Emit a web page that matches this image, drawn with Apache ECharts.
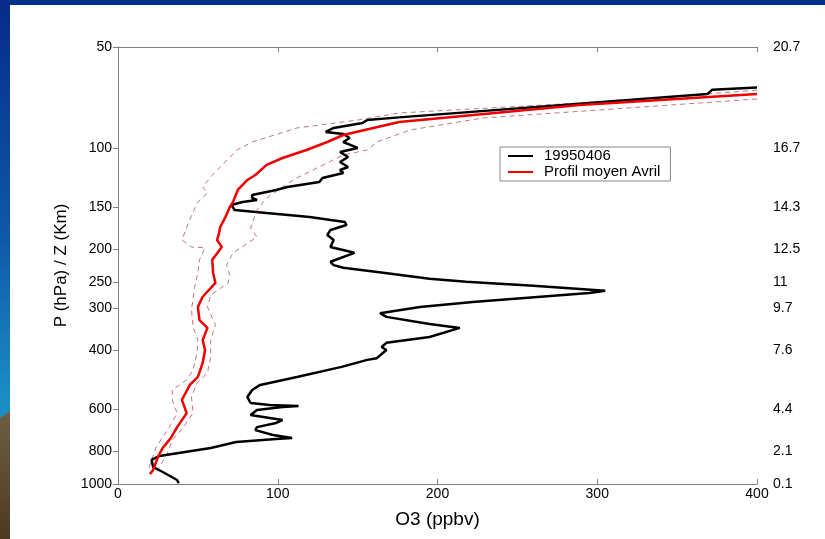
<!DOCTYPE html>
<html>
<head>
<meta charset="utf-8">
<script src="https://cdn.jsdelivr.net/npm/echarts@6/dist/echarts.min.js"></script>
<style>
  html, body { margin: 0; padding: 0; background: #fff; }
  #chart { width: 825px; height: 539px; }
</style>
</head>
<body>
<div id="chart"></div>
<script>
  // pressure ticks (hPa) and the matching altitude (km) shown on the right
  var pressureTicks = [50, 100, 150, 200, 250, 300, 400, 600, 800, 1000];
  var altitudeLabels = ['20.7', '16.7', '14.3', '12.5', '11', '9.7', '7.6', '4.4', '2.1', '0.1'];

  // ozone sounding 1995-04-06 : [O3 ppbv, P hPa]
  var sounding = [
    [400, 66], [372, 67], [369, 69], [176, 81], [156, 82.5], [153, 84.2], [135, 87.1],
    [130, 89.5], [141, 90.8], [145, 93.3], [141, 95.9], [150, 99.9], [139, 102.7],
    [144, 106.3], [139, 110], [144, 113.8], [139, 116.2], [141, 118.6], [128, 122.7],
    [126, 126.1], [106, 130.5], [99, 133.2], [84, 137.9], [84, 140.8], [87, 142.7],
    [78, 144.7], [71, 147.7], [70, 149.7], [73, 152.8], [93, 156], [120, 160.3],
    [142, 165.9], [143, 169.4], [133, 175.3], [131, 181.4], [135, 187.7], [133, 197],
    [148, 205], [133, 218], [135, 223], [141, 227], [166, 235], [195, 245], [218, 250],
    [260, 257], [305, 266], [295, 270], [222, 287], [189, 297], [164, 310], [168, 318],
    [195, 334], [214, 343], [195, 365], [168, 380], [165, 391], [168, 399], [162, 422],
    [156, 427], [140, 448], [112, 480], [89, 507], [84, 525], [81, 551], [83, 574],
    [95, 582], [113, 586], [103, 590], [87, 602], [83, 623], [95, 636], [103, 645],
    [99, 658], [87, 677], [86, 691], [97, 715], [109, 730], [99, 735], [74, 750],
    [58, 781], [26, 825], [21, 848], [22, 890], [28, 921], [37, 973], [38, 995]
  ];

  // April mean profile : [O3 ppbv, P hPa]
  var meanProfile = [
    [400, 69], [289, 74.4], [176, 83.6], [141, 91.4], [131, 95.9], [118, 101.3],
    [103, 107], [93, 112.2], [86, 120.2], [81, 124.4], [75, 133.2], [72, 144.7],
    [70, 149.7], [67, 161.4], [64, 171.7], [63, 181.4], [62, 187.7], [65, 197],
    [59, 215], [59.5, 235], [61, 252], [53, 277], [50, 297], [51, 325], [56, 343],
    [53, 373], [54.5, 399], [53, 436], [50, 480], [45, 507], [40, 562], [43, 615],
    [37, 677], [33, 730], [28, 781], [25, 831], [22, 908], [20, 934]
  ];

  // mean profile minus / plus one standard deviation
  var meanLow = [
    [400, 67.2], [369, 69], [289, 73.4], [176, 78.6], [150, 82.5], [112, 87.1],
    [84, 95.9], [74.5, 101.3], [64, 113.8], [58, 121.9], [53, 130.5], [56, 136],
    [49.5, 145.7], [44, 167.1], [40, 187.7], [46, 197], [54.5, 198], [51, 215],
    [50, 235], [48, 259], [46, 303], [47, 341], [50, 373], [49.5, 407], [47, 458],
    [43, 490], [34, 525], [34, 562], [37, 615], [33, 667], [28, 725], [24, 776],
    [21, 848], [19, 908]
  ];
  var meanHigh = [
    [400, 71.4], [364, 73.4], [228, 81.4], [183, 88.3], [162, 95.9], [156, 101.3],
    [141, 104.8], [112, 122.7], [103, 130.5], [93, 140.8], [87, 152.8], [83, 172.9],
    [87, 184], [72, 205], [68, 223], [70, 239], [69, 252], [58, 274], [56, 297],
    [61, 336], [58, 373], [58, 419], [56, 467], [49.5, 500], [46, 551], [47, 615],
    [41, 677], [34, 740], [31, 809], [26, 890], [24, 921]
  ];

  var log10 = function (p) { return Math.log10(p) }
  var toPlot = function (rows) {
    return rows.map(function (d) { return [d[0], log10(d[1])] })
  }
  var tickPos = pressureTicks.map(log10)
  var tickIndex = function (v) {
    for (var i = 0; i < tickPos.length; i++) {
      if (Math.abs(tickPos[i] - v) < 1e-6) return i
    }
    return -1
  }

  var frameGray = '#808080'
  var font = 'Liberation Sans, Arial, sans-serif'

  var chart = echarts.init(document.getElementById('chart'), null, { renderer: 'canvas' })

  // ticks pointing into the plot area
  var innerTick = { show: true, inside: false, length: -5, lineStyle: { color: frameGray } }

  var yAxisBase = {
    type: 'value',
    inverse: true,
    min: log10(50),
    max: log10(1000),
    axisLine: { show: true, lineStyle: { color: frameGray } },
    splitLine: { show: false }
  }

  chart.setOption({
    backgroundColor: '#fff',
    animation: false,
    textStyle: { fontFamily: font },
    graphic: [
      { type: 'rect', silent: true, shape: { x: 0, y: 0, width: 825, height: 5 }, style: { fill: '#00308a' } },
      {
        type: 'rect', silent: true, shape: { x: 0, y: 0, width: 10, height: 539 },
        style: {
          fill: new echarts.graphic.LinearGradient(0, 0, 0, 1, [
            { offset: 0, color: '#062b8a' },
            { offset: 0.45, color: '#0f5aa8' },
            { offset: 0.75, color: '#1a8fc4' }
          ])
        }
      },
      {
        type: 'polygon', silent: true, shape: { points: [[0, 418], [10, 411], [10, 539], [0, 539]] },
        style: {
          fill: new echarts.graphic.LinearGradient(0, 0, 0, 1, [
            { offset: 0, color: '#6e5e46' },
            { offset: 1, color: '#4d3a20' }
          ])
        }
      }
    ],
    grid: { left: 118, right: 68, top: 47, bottom: 55, containLabel: false },
    legend: {
      data: ['19950406', 'Profil moyen Avril'],
      orient: 'vertical',
      left: 500,
      top: 147,
      icon: 'rect',
      itemWidth: 25,
      itemHeight: 2,
      itemGap: 0,
      padding: [1, 10, 1, 8],
      borderColor: '#888',
      borderWidth: 1,
      backgroundColor: '#fff',
      textStyle: { fontSize: 15, color: '#000', padding: [0, 0, 0, 6], lineHeight: 16 }
    },
    xAxis: [
      {
        type: 'value',
        position: 'bottom',
        min: 0,
        max: 400,
        interval: 100,
        name: 'O3 (ppbv)',
        nameLocation: 'middle',
        nameGap: 26,
        nameTextStyle: { fontSize: 19, color: '#000' },
        axisLine: { show: true, lineStyle: { color: frameGray } },
        axisTick: innerTick,
        axisLabel: { color: '#000', fontSize: 14, margin: 3 },
        splitLine: { show: false }
      },
      {
        type: 'value',
        position: 'top',
        min: 0,
        max: 400,
        interval: 100,
        axisLine: { show: true, lineStyle: { color: frameGray } },
        axisTick: innerTick,
        axisLabel: { show: false },
        splitLine: { show: false }
      }
    ],
    yAxis: [
      Object.assign({}, yAxisBase, {
        position: 'left',
        name: 'P (hPa) / Z (Km)',
        nameLocation: 'middle',
        nameRotate: 90,
        nameGap: 48,
        nameTextStyle: { fontSize: 17, color: '#000' },
        axisTick: { show: true, inside: false, length: 5, customValues: tickPos, lineStyle: { color: frameGray } },
        axisLabel: {
          customValues: tickPos,
          color: '#000',
          fontSize: 14,
          margin: 6,
          formatter: function (v) { return String(Math.round(Math.pow(10, v))) }
        }
      }),
      Object.assign({}, yAxisBase, {
        position: 'right',
        axisTick: Object.assign({}, innerTick, { customValues: tickPos }),
        axisLabel: {
          customValues: tickPos,
          color: '#000',
          fontSize: 14,
          margin: 16,
          formatter: function (v) {
            var i = tickIndex(v)
            return i < 0 ? '' : altitudeLabels[i]
          }
        }
      })
    ],
    series: [
      {
        name: 'meanLow',
        type: 'line',
        symbol: 'none',
        data: toPlot(meanLow),
        lineStyle: { color: '#c27878', width: 1, type: [5, 4] },
        z: 1
      },
      {
        name: 'meanHigh',
        type: 'line',
        symbol: 'none',
        data: toPlot(meanHigh),
        lineStyle: { color: '#c27878', width: 1, type: [5, 4] },
        z: 1
      },
      {
        name: '19950406',
        type: 'line',
        symbol: 'none',
        color: '#000',
        data: toPlot(sounding),
        lineStyle: { color: '#000', width: 2.5 },
        z: 2
      },
      {
        name: 'Profil moyen Avril',
        type: 'line',
        symbol: 'none',
        color: '#ee0000',
        data: toPlot(meanProfile),
        lineStyle: { color: '#ee0000', width: 2.5 },
        z: 3
      }
    ]
  })
</script>
</body>
</html>
